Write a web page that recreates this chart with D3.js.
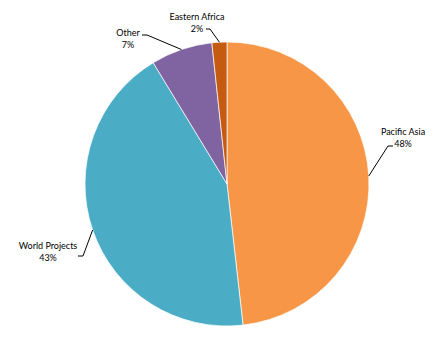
<!DOCTYPE html>
<html>
<head>
<meta charset="utf-8">
<script src="https://cdn.jsdelivr.net/npm/d3@7"></script>
<style>
  body { margin: 0; background: #fff; }
  text { font-family: Lato, "Liberation Sans", sans-serif; font-size: 9px; fill: #000; }
</style>
</head>
<body>
<svg id="chart" width="444" height="340"></svg>
<script>
const categories = ['Pacific Asia', 'World Projects', 'Other', 'Eastern Africa'];
const values = [48.2, 43.1, 7.0, 1.7];
const pctLabels = ['48%', '43%', '7%', '2%'];
const colors = ['#F79646', '#4BACC6', '#8064A2', '#C55A11'];

const cx = 227, cy = 184, radius = 142;

// where each label sits, relative to the pie centre
const labelPos = [
  { x: 176, y: -49, anchor: 'middle' },
  { x: -179, y: 65, anchor: 'middle' },
  { x: -99, y: -148, anchor: 'middle' },
  { x: -30, y: -164, anchor: 'middle' }
];
const linePts = [
  [[143, -11], [161, -38], [166, -38]],
  [[-134, 49], [-144, 72], [-149, 72]],
  [[-48, -134], [-80, -149], [-85, -149]],
  [[-9, -142], [-17, -155], [-21, -155]]
];

const data = categories.map((c, i) => ({ name: c, value: values[i], pct: pctLabels[i], color: colors[i] }));

const svg = d3.select('#chart');
const g = svg.append('g').attr('transform', `translate(${cx},${cy})`);

const pie = d3.pie().sort(null).value(d => d.value);
const arc = d3.arc().innerRadius(0).outerRadius(radius);
const arcs = pie(data);

g.selectAll('path.slice')
  .data(arcs)
  .enter()
  .append('path')
  .attr('class', 'slice')
  .attr('d', arc)
  .attr('fill', d => d.data.color)
  .attr('stroke', '#fff')
  .attr('stroke-width', 0.7);

g.selectAll('polyline')
  .data(arcs)
  .enter()
  .append('polyline')
  .attr('points', (d, i) => {
    // start the leader on the arc edge at the slice's middle angle
    const a = (d.startAngle + d.endAngle) / 2;
    const p0 = [Math.sin(a) * radius, -Math.cos(a) * radius];
    const pts = linePts[i].slice(1);
    return [p0].concat(pts).map(p => p.join(',')).join(' ');
  })
  .attr('fill', 'none')
  .attr('stroke', '#000')
  .attr('stroke-width', 1);

const labels = g.selectAll('text.lbl')
  .data(arcs)
  .enter()
  .append('text')
  .attr('class', 'lbl')
  .attr('text-anchor', (d, i) => labelPos[i].anchor)
  .attr('transform', (d, i) => `translate(${labelPos[i].x},${labelPos[i].y})`);

labels.append('tspan').attr('x', 0).attr('y', 0).text(d => d.data.name);
labels.append('tspan').attr('x', 0).attr('y', 12).text(d => d.data.pct);
</script>
</body>
</html>
